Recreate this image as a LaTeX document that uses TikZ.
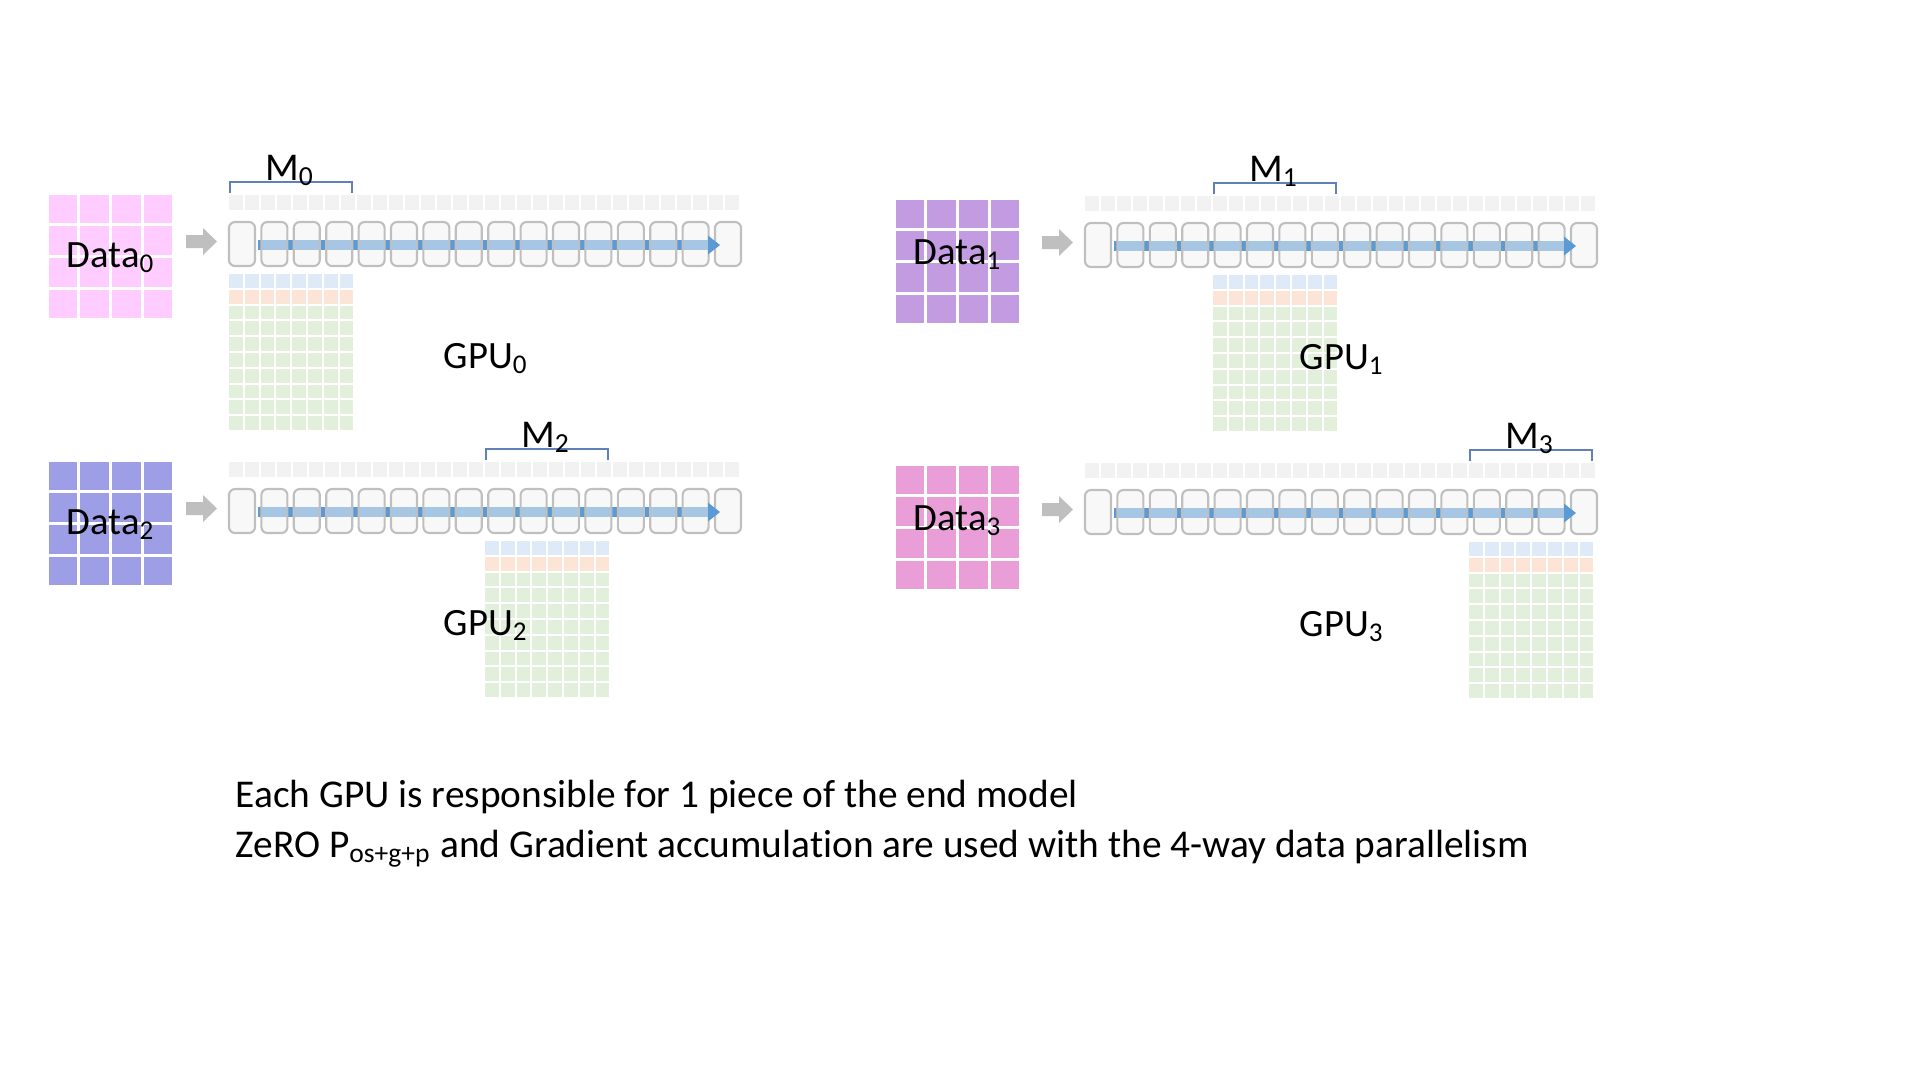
\documentclass[tikz,border=0pt]{standalone}
\usepackage{fontspec}
\setmainfont{Carlito}[Ligatures=NoCommon, RawFeature={-calt;-clig;-dlig}]
\usepackage{xcolor}
\usetikzlibrary{arrows.meta}
\definecolor{dataA}{RGB}{255,204,255}
\definecolor{dataB}{RGB}{195,155,225}
\definecolor{dataC}{RGB}{158,158,230}
\definecolor{dataD}{RGB}{233,158,215}
\definecolor{memblue}{RGB}{222,234,248}
\definecolor{memorange}{RGB}{252,228,214}
\definecolor{memgreen}{RGB}{226,239,218}
\definecolor{cellgray}{RGB}{242,242,242}
\definecolor{boxgray}{RGB}{191,191,191}
\definecolor{barblue}{RGB}{91,155,213}
\definecolor{bracketblue}{RGB}{95,128,185}

\begin{document}
\begin{tikzpicture}[x=0.1mm,y=-0.1mm,
    layerbox/.style={fill=cellgray, fill opacity=0.5, draw=boxgray, line width=0.6pt, rounded corners=0.6mm},
    mbrace/.style={draw=bracketblue, line width=0.5pt},
    flowbar/.style={barblue, line width=1mm},
    labelfont/.style={font=\fontsize{11}{13}\selectfont, inner sep=0pt}]
    \useasboundingbox (0,0) rectangle (1920,1080);
    % four GPUs: box x, box y, data x, data y, text offset, colour, index
    \foreach \qx/\qy/\dx/\dy/\tb/\dcol/\k in {229/222/47/193/74/dataA/0, 1085/223/894/198/66/dataB/1, 229/489/47/460/74/dataC/2, 1085/490/894/464/66/dataD/3}{
        % data batch
        \foreach \i in {0,...,3}
            \foreach \j in {0,...,3}
                \fill[\dcol] (\dx+\i*31.7+1.5,\dy+\j*31.7+1.5) rectangle ++(28.7,28.7);
        \node[labelfont, anchor=base] (data\k) at (\dx+64,\dy+\tb) {Data\textsubscript{\k}};
        % gray arrow into the model
        \fill[boxgray] (\qx-43,\qy+13) -- (\qx-26,\qy+13) -- (\qx-26,\qy+6) -- (\qx-12,\qy+19.5)
            -- (\qx-26,\qy+33) -- (\qx-26,\qy+26) -- (\qx-43,\qy+26) -- cycle;
        % parameter strip
        \foreach \i in {0,...,31}
            \fill[cellgray] (\qx+\i*16,\qy-27) rectangle ++(13.5,15);
        % forward pass and layers
        \coordinate (in\k) at (\qx+29,\qy+23);
        \coordinate (out\k) at (\qx+480,\qy+23);
        \draw[flowbar] (in\k) -- (out\k);
        \foreach \i in {0,...,15}
            \filldraw[layerbox] (\qx+\i*32.4,\qy) rectangle ++(26,44);
        \fill[barblue] (\qx+479,\qy+13.5) -- (\qx+491,\qy+23) -- (\qx+479,\qy+32.5) -- cycle;
        % memory of this GPU
        \pgfmathsetmacro{\mx}{\qx+\k*128}
        \foreach \c in {0,...,7}{
            \fill[memblue] (\mx+\c*15.8,\qy+52) rectangle ++(13.8,13.8);
            \fill[memorange] (\mx+\c*15.8,\qy+52+15.8) rectangle ++(13.8,13.8);
            \foreach \r in {2,...,9}
                \fill[memgreen] (\mx+\c*15.8,\qy+52+\r*15.8) rectangle ++(13.8,13.8);
        }
        \draw[mbrace] (\mx+1,\qy-29) -- (\mx+1,\qy-40) -- (\mx+123,\qy-40) -- (\mx+123,\qy-29);
        \node[labelfont, font=\fontsize{11.2}{13}\selectfont, anchor=base] (m\k) at (\mx+61,\qy-42) {M\textsubscript{\k}};
        \node[labelfont, anchor=base west] (gpu\k) at (\qx+214,\qy+146) {GPU\textsubscript{\k}};
    }
    \node[inner sep=0pt, anchor=base west, font=\fontsize{11.2}{13}\selectfont] (note1) at (235,807) {Each GPU is responsible for 1 piece of the end model};
    \node[inner sep=0pt, anchor=base west, font=\fontsize{11.2}{13}\selectfont] (note2) at (235,857) {ZeRO P\textsubscript{os+g+p} and Gradient accumulation are used with the 4-way data parallelism};
\end{tikzpicture}
\end{document}
